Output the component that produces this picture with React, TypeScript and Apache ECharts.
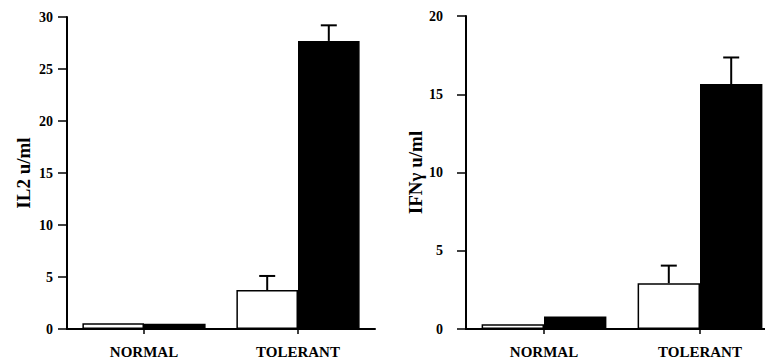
import React, { useEffect, useRef } from "react";
import * as echarts from "echarts";

const categories = ["NORMAL", "TOLERANT"];

// Left panel: IL2 u/ml
const il2Open = [0.55, 3.75];
const il2Filled = [0.5, 27.7];
const il2OpenErr: (number | null)[] = [null, 5.1];
const il2FilledErr: (number | null)[] = [null, 29.2];

// Right panel: IFNγ u/ml
const ifnOpen = [0.3, 2.93];
const ifnFilled = [0.8, 15.65];
const ifnOpenErr: (number | null)[] = [null, 4.05];
const ifnFilledErr: (number | null)[] = [null, 17.35];

const il2Ticks = { min: 0, max: 30, interval: 5 };
const ifnTicks = { min: 0, max: 20, interval: 5 };

const FONT = "Liberation Serif";

function errData(vals: number[], errs: (number | null)[]) {
  const out: any[] = [];
  vals.forEach((v, i) => {
    if (errs[i] != null) out.push([i, v, errs[i]]);
  });
  return out;
}

function errSeries(data: any[], offset: number, axis: number) {
  return {
    type: "custom",
    xAxisIndex: axis,
    yAxisIndex: axis,
    data,
    z: 5,
    renderItem: (params: any, api: any) => {
      const ci = api.value(0);
      const v = api.value(1);
      const top = api.value(2);
      const p0 = api.coord([ci, v]);
      const p1 = api.coord([ci, top]);
      const bw = api.size([1, 0])[0];
      const x = p0[0] + offset * bw;
      const style = { stroke: "#000", lineWidth: 2 };
      return {
        type: "group",
        children: [
          { type: "line", shape: { x1: x, y1: p0[1], x2: x, y2: p1[1] }, style },
          { type: "line", shape: { x1: x - 8, y1: p1[1], x2: x + 8, y2: p1[1] }, style },
        ],
      };
    },
  };
}

function yAxis(idx: number, name: string, t: any, labelMargin: number, nameGap: number) {
  return {
    type: "value",
    gridIndex: idx,
    min: t.min,
    max: t.max,
    interval: t.interval,
    name,
    nameLocation: "middle",
    nameGap,
    nameTextStyle: { fontFamily: FONT, fontWeight: "bold", fontSize: 19, color: "#000" },
    axisLine: { show: true, lineStyle: { color: "#000", width: 2 } },
    axisTick: { show: true, inside: false, length: 9, lineStyle: { color: "#000", width: 1.5 } },
    axisLabel: { margin: labelMargin, fontFamily: FONT, fontWeight: "bold", fontSize: 14, color: "#000" },
    splitLine: { show: false },
  };
}

function xAxis(idx: number) {
  return {
    type: "category",
    gridIndex: idx,
    data: categories,
    axisLine: { show: true, lineStyle: { color: "#000", width: 2 } },
    axisTick: { show: true, alignWithLabel: true, length: 5, lineStyle: { color: "#000", width: 1.5 } },
    axisLabel: { margin: 15, fontFamily: FONT, fontWeight: "bold", fontSize: 15, color: "#000" },
    splitLine: { show: false },
  };
}

function barSeries(data: number[], filled: boolean, axis: number) {
  return {
    type: "bar",
    xAxisIndex: axis,
    yAxisIndex: axis,
    data,
    barWidth: "40%",
    barGap: "0%",
    itemStyle: {
      color: filled ? "#000" : "#fff",
      borderColor: "#000",
      borderWidth: 1.5,
    },
  };
}

export default function App() {
  const ref = useRef<HTMLDivElement>(null);
  useEffect(() => {
    if (!ref.current) return;
    const chart = echarts.init(ref.current, null, { renderer: "svg" });
    chart.setOption({
      animation: false,
      backgroundColor: "#fff",
      grid: [
        { left: 67, top: 17, width: 308, height: 312 },
        { left: 466, top: 16, width: 312, height: 313 },
      ],
      xAxis: [xAxis(0), xAxis(1)],
      yAxis: [
        yAxis(0, "IL2 u/ml", il2Ticks, 14, 34),
        yAxis(1, "IFNγ u/ml", ifnTicks, 23, 35),
      ],
      series: [
        barSeries(il2Open, false, 0),
        barSeries(il2Filled, true, 0),
        barSeries(ifnOpen, false, 1),
        barSeries(ifnFilled, true, 1),
        errSeries(errData(il2Open, il2OpenErr), -0.2, 0),
        errSeries(errData(il2Filled, il2FilledErr), 0.2, 0),
        errSeries(errData(ifnOpen, ifnOpenErr), -0.2, 1),
        errSeries(errData(ifnFilled, ifnFilledErr), 0.2, 1),
      ],
    });
    return () => chart.dispose();
  }, []);
  return (
    <div
      style={{
        position: "absolute",
        left: 0,
        top: 0,
        width: 765,
        height: 360,
        overflow: "hidden",
        background: "#fff",
      }}
    >
      <div ref={ref} style={{ width: 800, height: 360 }} />
    </div>
  );
}
